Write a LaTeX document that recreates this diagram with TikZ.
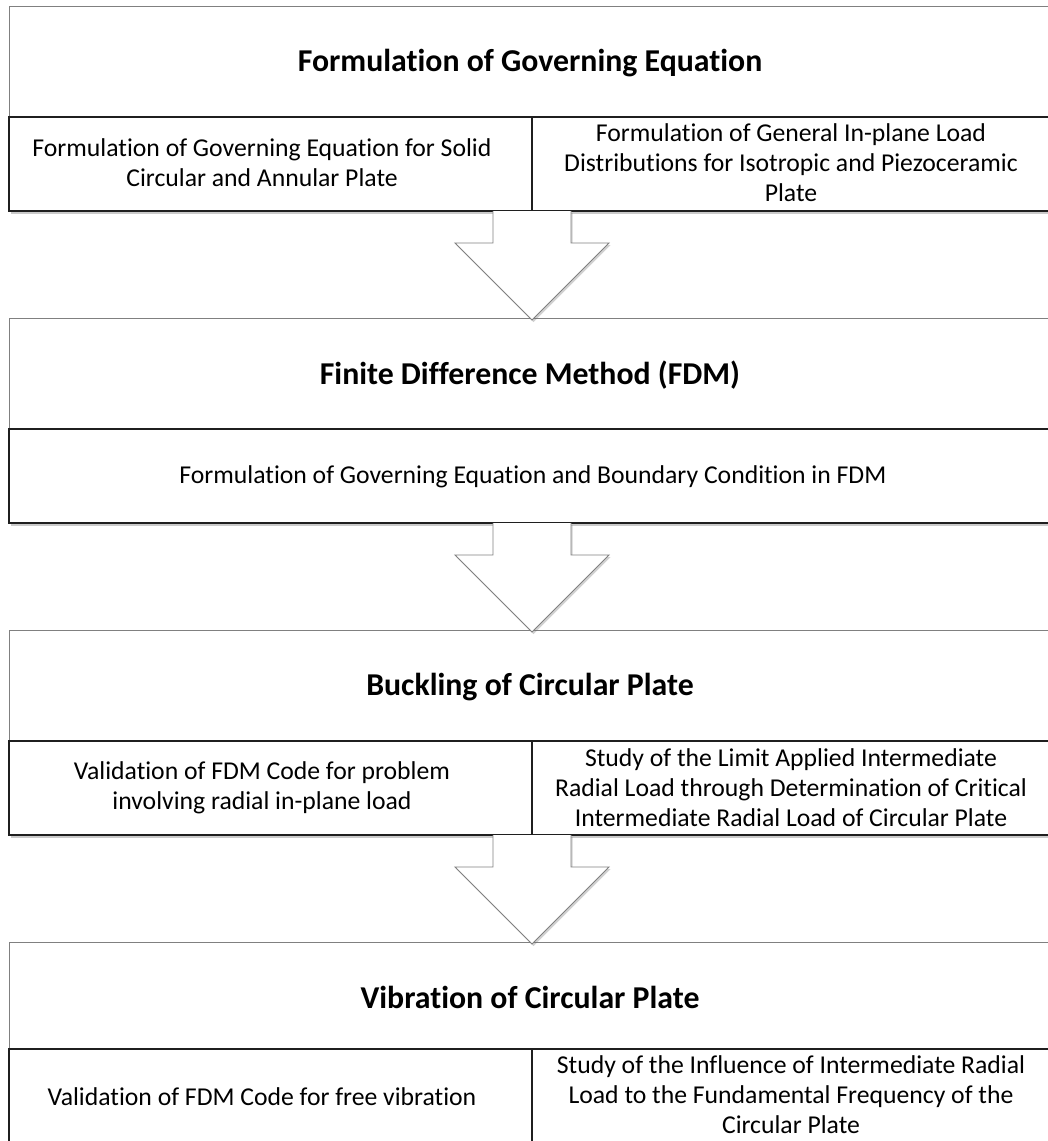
\documentclass[tikz,border=0pt]{standalone}
\usepackage{fontspec}
\setmainfont{Carlito}[Ligatures=NoCommon]
\usetikzlibrary{calc,shadows}
\tikzset{
  titlearea/.style={draw=black!50, line width=0.9pt, fill=white},
  subarea/.style={draw=black!88, line width=1.6pt, fill=white,
    drop shadow={shadow xshift=1.5pt, shadow yshift=-2.5pt, opacity=0.35, fill=black!60}},
  divider/.style={draw=black!88, line width=1.6pt},
  titletext/.style={font=\fontsize{31.8}{36}\selectfont\bfseries, inner sep=0pt, anchor=center},
  celltext/.style={font=\fontsize{25.7}{30}\selectfont, align=center, inner sep=0pt, anchor=center},
  blockarrow/.style={draw=black!50, line width=0.9pt, fill=white, line join=miter,
    drop shadow={shadow xshift=1.5pt, shadow yshift=-2pt, opacity=0.3, fill=black!60}}
}
\begin{document}
\begin{tikzpicture}[x=1pt,y=-1pt]
\useasboundingbox (0,0) rectangle (1048,1141);

% ---------- Box 1 ----------
\draw[titlearea] (9,6) rectangle (1053,117);
\draw[subarea] (9,117) rectangle (1053,211);
\draw[divider] (532,117) -- (532,211);
\node[titletext] (t1) at (530,63) {Formulation of Governing Equation};
\node[celltext] (c1l) at (262,163) {Formulation of Governing Equation for Solid\\Circular and Annular Plate};
\node[celltext] (c1r) at (791,163) {Formulation of General In-plane Load\\Distributions for Isotropic and Piezoceramic\\Plate};
\coordinate (a1top) at (532,211);
\coordinate (a1tip) at (532,320);

% ---------- Box 2 ----------
\draw[titlearea] (9,318) rectangle (1053,429);
\draw[subarea] (9,429) rectangle (1053,523);
\node[titletext] (t2) at (530,375) {Finite Difference Method (FDM)};
\node[celltext] (c2) at (533,477) {Formulation of Governing Equation and Boundary Condition in FDM};
\coordinate (a2top) at (532,523);
\coordinate (a2tip) at (532,632);

% ---------- Box 3 ----------
\draw[titlearea] (9,630) rectangle (1053,741);
\draw[subarea] (9,741) rectangle (1053,835);
\draw[divider] (532,741) -- (532,835);
\node[titletext] (t3) at (530,687) {Buckling of Circular Plate};
\node[celltext] (c3l) at (262,788) {Validation of FDM Code for problem\\involving radial in-plane load};
\node[celltext] (c3r) at (791,788) {Study of the Limit Applied Intermediate\\Radial Load through Determination of Critical\\Intermediate Radial Load of Circular Plate};
\coordinate (a3top) at (532,835);
\coordinate (a3tip) at (532,944);

% ---------- Box 4 ----------
\draw[titlearea] (9,942) rectangle (1053,1049);
\draw[subarea] (9,1049) rectangle (1053,1146);
\draw[divider] (532,1049) -- (532,1146);
\node[titletext] (t4) at (530,997) {Vibration of Circular Plate};
\node[celltext] (c4l) at (262,1097) {Validation of FDM Code for free vibration};
\node[celltext] (c4r) at (791,1095) {Study of the Influence of Intermediate Radial\\Load to the Fundamental Frequency of the\\Circular Plate};

% ---------- Block arrows ----------
\foreach \a in {a1,a2,a3}{
  \draw[blockarrow] (\a top) ++(-39,0) -- ++(0,32) -- ++(-38,0) -- (\a tip)
     -- ++(77,-77) -- ++(-38,0) -- ++(0,-32);
}
\end{tikzpicture}
\end{document}
